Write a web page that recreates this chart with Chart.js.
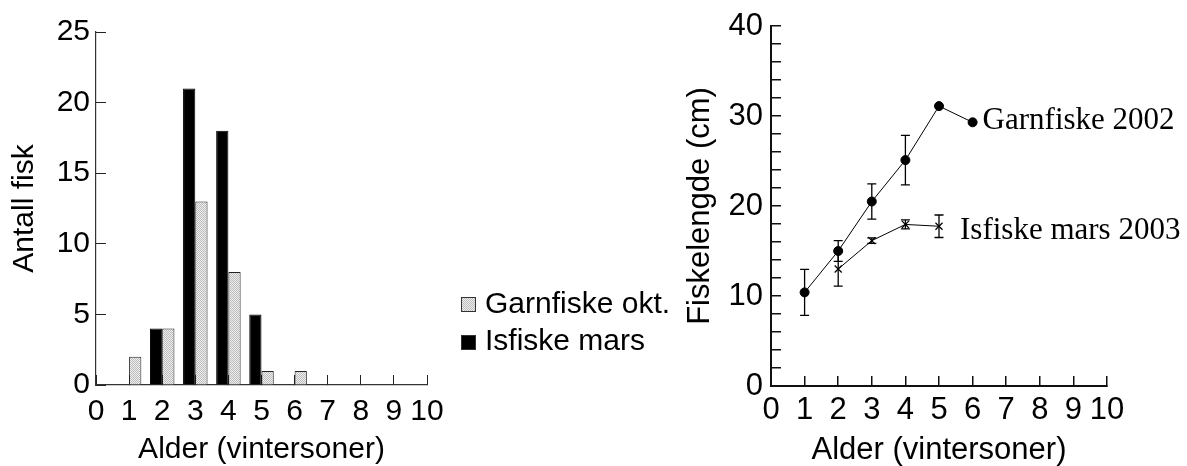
<!DOCTYPE html>
<html>
<head>
<meta charset="utf-8">
<script src="https://cdn.jsdelivr.net/npm/chart.js@4"></script>
<style>
  html, body { margin: 0; padding: 0; background: #fff; }
  #wrap { position: relative; width: 1187px; height: 466px; overflow: hidden; font-family: "Liberation Sans", Arial, sans-serif; }
  #left { position: absolute; left: 0; top: 0; }
  #right { position: absolute; left: 650px; top: 0; }
  .lg-text { position: absolute; left: 485px; font-size: 30px; line-height: 36px; color: #000; white-space: nowrap; }
  .lg-box { position: absolute; left: 461px; width: 15px; height: 15px; box-sizing: border-box; border: 1px solid #333; }
</style>
</head>
<body>
<div id="wrap">
  <canvas id="left" width="460" height="466"></canvas>
  <canvas id="right" width="537" height="466"></canvas>
</div>
<script>
// ---------- data: left panel (age distribution) ----------
const ageTicks = [0, 1, 2, 3, 4, 5, 6, 7, 8, 9, 10];
const garnOktAges = [1, 2, 3, 4, 5, 6];
const garnOktCount = [2, 4, 13, 8, 1, 1];
const isMarsAges = [2, 3, 4, 5];
const isMarsCount = [4, 21, 18, 5];
const countTicks = [0, 5, 10, 15, 20, 25];
const barLabels = ['Garnfiske okt.', 'Isfiske mars'];

// ---------- data: right panel (length at age, mean +/- error) ----------
const garnAges = [1, 2, 3, 4, 5, 6];
const garnLength = [10.4, 15.0, 20.5, 25.1, 31.1, 29.3];
const garnErr = [2.55, 1.15, 1.95, 2.75, 0, 0];
const isAges = [2, 3, 4, 5];
const isLength = [13.0, 16.15, 17.95, 17.75];
const isErr = [1.9, 0.3, 0.5, 1.25];
const lengthTicks = [0, 2, 4, 6, 8, 10, 12, 14, 16, 18, 20, 22, 24, 26, 28, 30, 32, 34, 36, 38, 40];
const lengthLabelled = [0, 10, 20, 30, 40];
const lineLabels = ['Garnfiske 2002', 'Isfiske mars 2003'];

const sans = '"Liberation Sans", Arial, sans-serif';
const serif = '"Liberation Serif", "Times New Roman", serif';
Chart.defaults.font.family = sans;
Chart.defaults.color = '#000';

const pts = (xs, ys) => xs.map((x, i) => ({x, y: ys[i]}));

// stippled light grey fill like the printed figure
const patCanvas = document.createElement('canvas');
patCanvas.width = 2; patCanvas.height = 2;
const pc = patCanvas.getContext('2d');
pc.fillStyle = '#eeeeee'; pc.fillRect(0, 0, 2, 2);
pc.fillStyle = '#bcbcbc'; pc.fillRect(0, 0, 1, 1); pc.fillRect(1, 1, 1, 1);
const greyFill = pc.createPattern(patCanvas, 'repeat');

// ---------- legend for left panel (html) ----------
const wrap = document.getElementById('wrap');
const legendRows = [
  {label: barLabels[0], boxTop: 297, textTop: 285, fill: 'url(' + patCanvas.toDataURL() + ')'},
  {label: barLabels[1], boxTop: 335, textTop: 322, fill: '#000'}
];
legendRows.forEach(r => {
  const b = document.createElement('span');
  b.className = 'lg-box'; b.style.top = r.boxTop + 'px';
  if (r.fill.startsWith('url')) { b.style.backgroundImage = r.fill; } else { b.style.background = r.fill; }
  const t = document.createElement('div');
  t.className = 'lg-text'; t.style.top = r.textTop + 'px'; t.textContent = r.label;
  wrap.appendChild(b); wrap.appendChild(t);
});

// ---------- plugins ----------
const errorBars = {
  id: 'errorBars',
  afterDatasetsDraw(chart) {
    const {ctx, scales: {x, y}} = chart;
    ctx.save();
    ctx.strokeStyle = '#000'; ctx.lineWidth = 1.3;
    chart.data.datasets.forEach(ds => {
      if (!ds.errors) return;
      ds.data.forEach((p, j) => {
        const e = ds.errors[j]; if (!e) return;
        const px = x.getPixelForValue(p.x);
        const top = y.getPixelForValue(p.y + e), bot = y.getPixelForValue(p.y - e);
        ctx.beginPath();
        ctx.moveTo(px, top); ctx.lineTo(px, bot);
        ctx.moveTo(px - 4.5, top); ctx.lineTo(px + 4.5, top);
        ctx.moveTo(px - 4.5, bot); ctx.lineTo(px + 4.5, bot);
        ctx.stroke();
      });
    });
    ctx.restore();
  }
};

const endLabels = {
  id: 'endLabels',
  afterDatasetsDraw(chart) {
    const {ctx} = chart;
    ctx.save();
    ctx.font = '31px ' + serif;
    ctx.fillStyle = '#000'; ctx.textBaseline = 'middle'; ctx.textAlign = 'left';
    chart.data.datasets.forEach((ds, i) => {
      const meta = chart.getDatasetMeta(i);
      const last = meta.data[meta.data.length - 1];
      const off = ds.labelOffset || [10, 0];
      ctx.fillText(ds.label, last.x + off[0], last.y + off[1]);
    });
    ctx.restore();
  }
};

// keep the plot box where the figure has it: no extra room for half labels
const fixWidth = w => s => { s.width = w; s.paddingTop = 0; s.paddingBottom = 0; };
const fixHeight = h => s => { s.height = h; s.paddingLeft = 0; s.paddingRight = 0; };

// ---------- left chart: bars ----------
new Chart(document.getElementById('left'), {
  type: 'bar',
  data: {
    datasets: [
      {label: barLabels[1], data: pts(isMarsAges, isMarsCount), backgroundColor: '#000', borderColor: '#000', borderWidth: 1},
      {label: barLabels[0], data: pts(garnOktAges, garnOktCount), backgroundColor: greyFill, borderColor: '#222', borderWidth: 1}
    ]
  },
  options: {
    responsive: false,
    animation: false,
    layout: {padding: {top: 32, right: 33, left: 0, bottom: 0}},
    datasets: {bar: {categoryPercentage: 0.74, barPercentage: 1}},
    plugins: {legend: {display: false}, tooltip: {enabled: false}},
    scales: {
      x: {
        type: 'linear', min: 0, max: 10, offset: false,
        afterBuildTicks: s => { s.ticks = ageTicks.map(v => ({value: v})); },
        afterFit: fixHeight(81),
        grid: {drawOnChartArea: false, drawTicks: true, tickLength: -10, color: '#222', offset: false},
        border: {color: '#333', width: 1.2},
        ticks: {font: {size: 30}, padding: 19, maxRotation: 0, autoSkip: false},
        title: {display: true, text: 'Alder (vintersoner)', font: {size: 30, lineHeight: 1.1}, padding: 0}
      },
      y: {
        min: 0, max: 25,
        afterBuildTicks: s => { s.ticks = countTicks.map(v => ({value: v})); },
        afterFit: fixWidth(96),
        grid: {drawOnChartArea: false, drawTicks: true, tickLength: -10, color: '#222'},
        border: {color: '#333', width: 1.2},
        ticks: {font: {size: 30}, padding: 16, autoSkip: false},
        title: {display: true, text: 'Antall fisk', font: {size: 30, lineHeight: 1.2}, padding: {top: 7, bottom: 0}}
      }
    }
  }
});

// ---------- right chart: lengths ----------
new Chart(document.getElementById('right'), {
  type: 'line',
  data: {
    datasets: [
      {label: lineLabels[0], data: pts(garnAges, garnLength), errors: garnErr, labelOffset: [10, -1],
       borderColor: '#000', borderWidth: 1, tension: 0, pointStyle: 'circle', pointRadius: 4.5,
       pointBackgroundColor: '#000', pointBorderColor: '#000'},
      {label: lineLabels[1], data: pts(isAges, isLength), errors: isErr, labelOffset: [21, 5],
       borderColor: '#000', borderWidth: 1, tension: 0, pointStyle: 'crossRot', pointRadius: 5,
       pointBorderWidth: 1.2, pointBorderColor: '#000', pointBackgroundColor: '#000'}
    ]
  },
  options: {
    responsive: false,
    animation: false,
    layout: {padding: {top: 26, right: 80, left: 0, bottom: 0}},
    plugins: {legend: {display: false}, tooltip: {enabled: false}},
    scales: {
      x: {
        type: 'linear', min: 0, max: 10,
        afterBuildTicks: s => { s.ticks = ageTicks.map(v => ({value: v})); },
        afterFit: fixHeight(80),
        grid: {drawOnChartArea: false, drawTicks: true, tickLength: -10, color: '#111', lineWidth: 1.5},
        border: {color: '#111', width: 2},
        ticks: {font: {size: 31}, padding: 16, maxRotation: 0, autoSkip: false},
        title: {display: true, text: 'Alder (vintersoner)', font: {size: 31, lineHeight: 1.0}, padding: 0}
      },
      y: {
        min: 0, max: 40,
        afterBuildTicks: s => { s.ticks = lengthTicks.map(v => ({value: v})); },
        ticks: {font: {size: 31}, padding: 18, autoSkip: false,
                callback: v => lengthLabelled.includes(v) ? String(v) : ''},
        afterFit: fixWidth(121),
        grid: {drawOnChartArea: false, drawTicks: true, tickLength: -10, color: '#111', lineWidth: 1.5},
        border: {color: '#111', width: 2},
        title: {display: true, text: 'Fiskelengde (cm)', font: {size: 31, lineHeight: 1.2}, padding: {top: 32, bottom: 0}}
      }
    }
  },
  plugins: [errorBars, endLabels]
});
</script>
</body>
</html>
